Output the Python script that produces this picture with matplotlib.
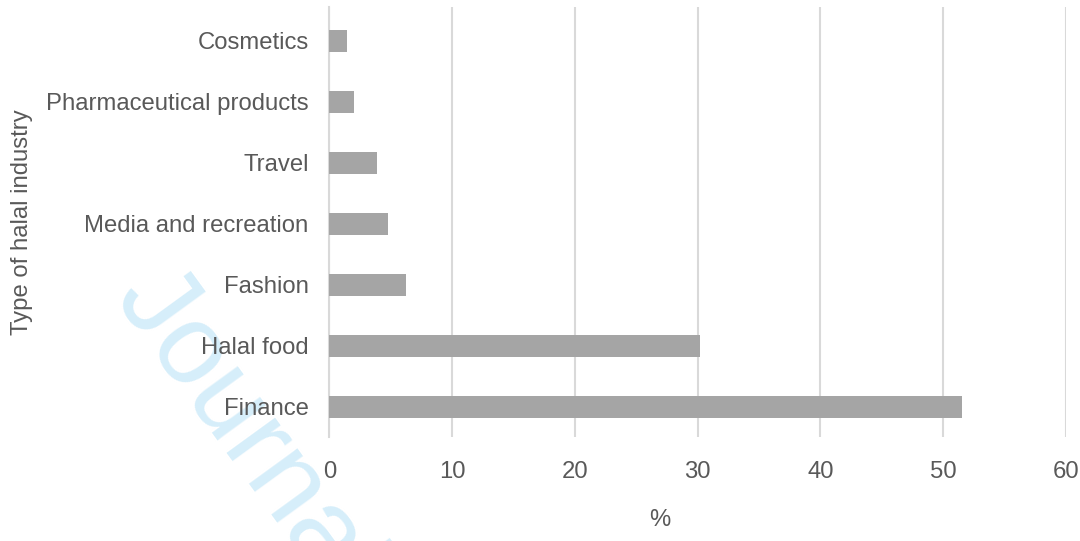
import matplotlib.pyplot as plt

# ============================================================
# DATA
# ============================================================

industries = [
    "Finance",
    "Halal food",
    "Fashion",
    "Media and recreation",
    "Travel",
    "Pharmaceutical products",
    "Cosmetics",
]

shares = [51.5, 30.2, 6.2, 4.8, 3.9, 2.0, 1.4]

x_ticks = [0, 10, 20, 30, 40, 50, 60]

# ============================================================
# STYLE
# ============================================================

TEXT_COLOR = "#595959"
BAR_COLOR = "#A5A5A5"
GRID_COLOR = "#D9D9D9"
FONT_SIZE = 17.2

plt.rcParams["font.family"] = ["Liberation Sans", "DejaVu Sans"]

# ============================================================
# PLOT
# ============================================================

fig = plt.figure(figsize=(10.8, 5.41), dpi=100)
ax = fig.add_axes([0.305, 0.192, 0.682, 0.795])

# watermark of the source page, kept behind everything
fig.text(
    0.105, 0.45, "Journal Pre-proof",
    fontsize=82, color="#D6EEFA", rotation=-54,
    rotation_mode="anchor", ha="left", va="baseline", zorder=-1,
)

y = list(range(len(industries)))
ax.barh(y, shares, height=0.36, color=BAR_COLOR, zorder=3)

ax.set_xlim(0, 60)
ax.set_ylim(-0.5, 6.55)
ax.set_xticks(x_ticks)
ax.set_yticks(y)
ax.set_yticklabels(industries)

ax.grid(axis="x", color=GRID_COLOR, linewidth=1.5, zorder=0)
ax.set_axisbelow(True)

for s in ["top", "right", "bottom"]:
    ax.spines[s].set_visible(False)
ax.spines["left"].set_color(GRID_COLOR)
ax.spines["left"].set_linewidth(1.5)

ax.tick_params(axis="both", length=0, labelsize=FONT_SIZE, labelcolor=TEXT_COLOR)
ax.tick_params(axis="x", pad=17)
ax.tick_params(axis="y", pad=15)

ax.set_xlabel("%", fontsize=FONT_SIZE, color=TEXT_COLOR)
ax.xaxis.set_label_coords(0.449, -0.168)
ax.set_ylabel("Type of halal industry", fontsize=FONT_SIZE, color=TEXT_COLOR)
ax.yaxis.set_label_coords(-0.403, 0.5)
ax.patch.set_alpha(0)

fig.savefig("out.png", dpi=100)
